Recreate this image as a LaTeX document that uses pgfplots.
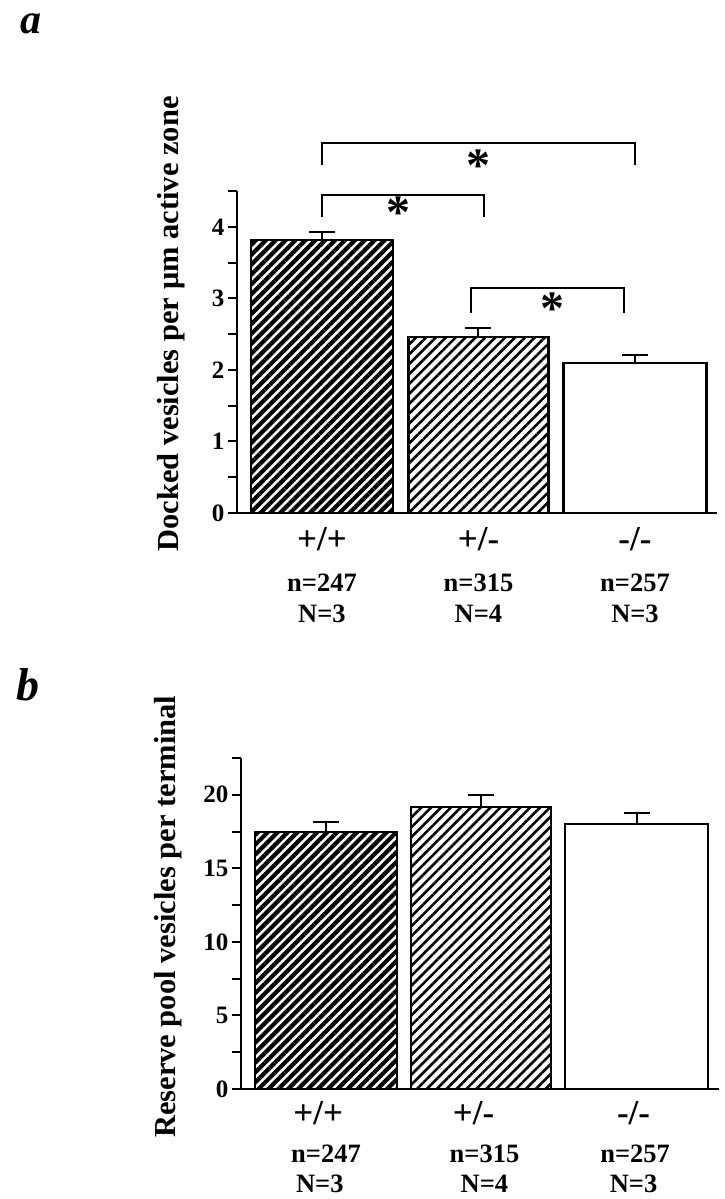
\documentclass[border=0pt]{standalone}
\usepackage{fontspec}
\setmainfont{Liberation Serif}
\usepackage{pgfplots}
\pgfplotsset{compat=1.18}
\usetikzlibrary{patterns.meta}

\pgfplotsset{
  panel/.style={
    scale only axis, anchor=south west, clip=false,
    axis x line=bottom, axis y line=left,
    axis line style={line width=2pt, -},
    ymin=0, xtick=\empty,
    tick align=outside, ytick pos=left,
    every tick/.style={line width=2pt, black},
    major tick length=9pt, minor tick length=9pt,
    yticklabel style={font=\fontsize{25}{25}\selectfont\bfseries},
    /pgf/number format/assume math mode=true,
  },
  errs/.style={error bars/.cd, y dir=plus, y explicit,
    error bar style={line width=2pt, black},
    error mark options={rotate=90, mark size=13pt, line width=2pt, black}},
  barA/.style={ybar, bar width=142pt, bar shift=0pt, draw=black, line width=2.2pt,
    pattern={Lines[angle=45, distance=7pt, line width=4.2pt]}, errs},
  barB/.style={ybar, bar width=140pt, bar shift=0pt, draw=black, line width=2.2pt,
    pattern={Lines[angle=45, distance=7pt, line width=2.6pt]}, errs},
  barC/.style={ybar, bar width=143pt, bar shift=0pt, draw=black, line width=2.2pt, fill=white, errs},
}
\tikzset{
  lab/.style={font=\fontsize{35}{35}\selectfont\bfseries, anchor=base},
  labn/.style={font=\fontsize{26.5}{26.5}\selectfont\bfseries, anchor=base},
  star/.style={font=\fontsize{48}{48}\selectfont\bfseries, yshift=-6pt},
  plab/.style={font=\fontsize{42}{42}\selectfont\bfseries\itshape, anchor=base, inner sep=0pt},
}

\begin{document}
\begin{tikzpicture}
\useasboundingbox (0pt,0pt) rectangle (724pt,-1199pt);

\node[plab] at (31pt,-34pt) {a};
\node[plab, font=\fontsize{46}{46}\selectfont\bfseries\itshape] at (28pt,-700pt) {b};

% Panel a
\begin{axis}[panel, at={(237pt,-513pt)},
  width=480pt, height=322pt,
  xmin=-0.543, xmax=2.524, ymax=4.5,
  ytick={0,1,2,3,4}, minor ytick={0.5,1.5,2.5,3.5,4.5},
  ylabel={Docked vesicles per μm active zone},
  ylabel style={at={(axis description cs:-0.1375,0.587)}, anchor=center,
    font=\fontsize{30.5}{30.5}\selectfont\bfseries},
]
\addplot[barA] coordinates {(0,3.82) +- (0,0.11)};
\addplot[barB] coordinates {(1,2.46) +- (0,0.13)};
\addplot[barC] coordinates {(2,2.10) +- (0,0.11)};
% significance brackets
\addplot[line width=2pt, black, mark=none] coordinates {(0,4.87) (0,5.17) (2,5.17) (2,4.87)};
\addplot[line width=2pt, black, mark=none] coordinates {(0,4.13) (0,4.45) (1.035,4.45) (1.035,4.13)};
\addplot[line width=2pt, black, mark=none] coordinates {(0.952,2.80) (0.952,3.15) (1.93,3.15) (1.93,2.80)};
\node[star] at (axis cs:1,4.94) {*};
\node[star] at (axis cs:0.486,4.28) {*};
\node[star] at (axis cs:1.476,2.94) {*};
% category labels
\node[lab] at (axis cs:0,0) [yshift=-37pt] {+/+};
\node[lab] at (axis cs:1,0) [yshift=-37pt] {+/-};
\node[lab] at (axis cs:2,0) [yshift=-37pt] {-/-};
\node[labn] at (axis cs:0,0) [yshift=-78pt] {n=247};
\node[labn] at (axis cs:1,0) [yshift=-78pt] {n=315};
\node[labn] at (axis cs:2,0) [yshift=-78pt] {n=257};
\node[labn] at (axis cs:0,0) [yshift=-109pt] {N=3};
\node[labn] at (axis cs:1,0) [yshift=-109pt] {N=4};
\node[labn] at (axis cs:2,0) [yshift=-109pt] {N=3};
\end{axis}

% Panel b
\begin{axis}[panel, at={(241pt,-1089pt)},
  width=478pt, height=331pt,
  xmin=-0.5475, xmax=2.53, ymax=22.5,
  ytick={0,5,10,15,20}, minor ytick={2.5,7.5,12.5,17.5,22.5},
  ylabel={Reserve pool vesicles per terminal},
  ylabel style={at={(axis description cs:-0.153,0.52)}, anchor=center,
    font=\fontsize{30.5}{30.5}\selectfont\bfseries},
]
\addplot[barA] coordinates {(0,17.48) +- (0,0.68)};
\addplot[barB] coordinates {(1,19.18) +- (0,0.82)};
\addplot[barC] coordinates {(2,18.03) +- (0,0.75)};
\node[lab] at (axis cs:-0.05,0) [yshift=-35pt] {+/+};
\node[lab] at (axis cs:0.95,0) [yshift=-35pt] {+/-};
\node[lab] at (axis cs:1.98,0) [yshift=-35pt] {-/-};
\node[labn] at (axis cs:0,0) [yshift=-73pt] {n=247};
\node[labn] at (axis cs:1.02,0) [yshift=-73pt] {n=315};
\node[labn] at (axis cs:1.99,0) [yshift=-73pt] {n=257};
\node[labn] at (axis cs:-0.04,0) [yshift=-103pt] {N=3};
\node[labn] at (axis cs:1.02,0) [yshift=-103pt] {N=4};
\node[labn] at (axis cs:1.98,0) [yshift=-103pt] {N=3};
\end{axis}
\end{tikzpicture}
\end{document}
